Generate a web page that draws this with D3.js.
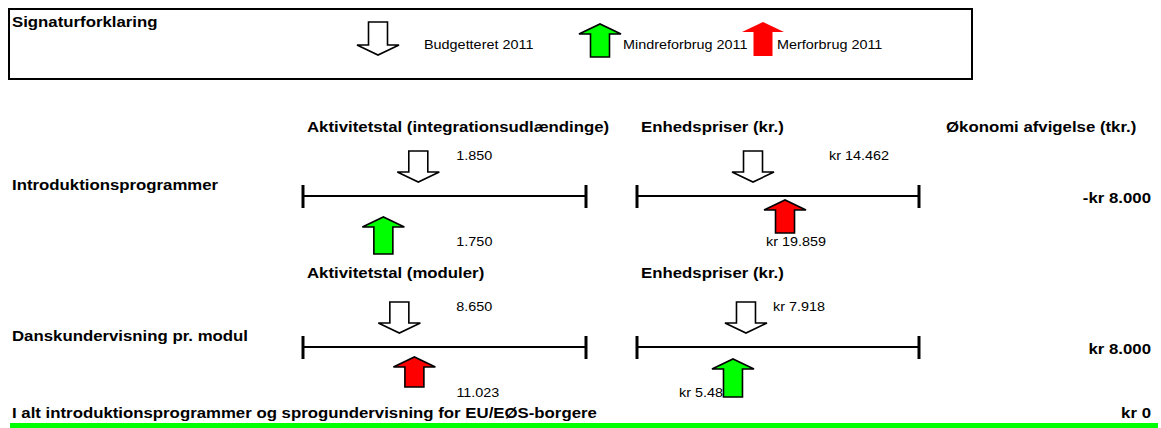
<!DOCTYPE html>
<html>
<head>
<meta charset="utf-8">
<script src="https://cdn.jsdelivr.net/npm/d3@7"></script>
<style>
  body { margin: 0; background: #fff; }
  svg { display: block; font-family: "Liberation Sans", Arial, sans-serif; }
</style>
</head>
<body>
<svg width="1161" height="428"></svg>
<script>
// data
const rowLabels = ["Introduktionsprogrammer", "Danskundervisning pr. modul"];
const activityHeaders = ["Aktivitetstal (integrationsudlændinge)", "Aktivitetstal (moduler)"];
const priceHeaders = ["Enhedspriser (kr.)", "Enhedspriser (kr.)"];
const activityBudget = [1850, 8650];
const activityActual = [1750, 11023];
const priceBudget = [14462, 7918];
const priceActual = [19859, 5487];
const deviation = [-8000, 8000];
const totalLabel = "I alt introduktionsprogrammer og sprogundervisning for EU/EØS-borgere";
const totalValue = 0;
const legendItems = ["Budgetteret 2011", "Mindreforbrug 2011", "Merforbrug 2011"];

const svg = d3.select("svg");
const GREEN = "#00ff00", RED = "#ff0000";
const STRETCH = 1.2; // text in the original is drawn wide

const da = d3.formatLocale({decimal: ",", thousands: ".", grouping: [3], currency: ["kr ", ""], minus: "-"});
const fmtNum = da.format(",.0f");
const fmtKr = da.format("$,.0f");

const line = d3.line();

function label(g, x, y, txt, size, bold, anchor) {
    return g.append("text")
        .attr("transform", `translate(${x},${y}) scale(${STRETCH},1)`)
        .attr("font-size", size)
        .attr("font-weight", bold ? "bold" : "normal")
        .attr("text-anchor", anchor || "start")
        .text(txt);
}

// arrow polygon; dir = 1 points down, -1 points up
function arrowPoints(cx, tipY, dir, len, hw, bw, hh) {
    const base = tipY - dir * len, neck = tipY - dir * hh;
    return [
        [cx - bw / 2, base], [cx + bw / 2, base], [cx + bw / 2, neck],
        [cx + hw / 2, neck], [cx, tipY], [cx - hw / 2, neck], [cx - bw / 2, neck]
    ];
}

function arrow(g, cx, tipY, dir, len, fill, stroke) {
    g.append("path")
        .attr("d", line(arrowPoints(cx, tipY, dir, len, 42, 19, 10)) + "Z")
        .attr("fill", fill)
        .attr("stroke", stroke)
        .attr("stroke-width", 1.6)
        .attr("stroke-linejoin", "miter");
}

// legend
svg.append("rect")
    .attr("x", 9).attr("y", 9).attr("width", 963).attr("height", 70)
    .attr("fill", "none").attr("stroke", "black").attr("stroke-width", 2);
label(svg, 12, 27, "Signaturforklaring", 14, true);

const lg = svg.append("g");
arrow(lg, 378, 55, 1, 33, "white", "black");
arrow(lg, 600, 24, -1, 33, GREEN, "black");
arrow(lg, 763, 22, -1, 34, RED, "none");
legendItems.forEach((d, i) => label(lg, [424, 623, 777][i], 49, d, 12, false));

// panels: scale domains and label offsets per cell
const rowY = [196, 347];
const cols = [{x0: 303, x1: 586}, {x0: 637, x1: 919}];
const cells = [
    {row: 0, col: 0, budget: activityBudget[0], actual: activityActual[0], fmt: fmtNum, domain: [1520, 2330], bDx: 38, aDx: 73, upDy: 21, upLen: 37},
    {row: 0, col: 1, budget: priceBudget[0], actual: priceActual[0], fmt: fmtKr, domain: [-5100, 42450], bDx: 76, aDx: -19, upDy: 4, upLen: 33},
    {row: 1, col: 0, budget: activityBudget[1], actual: activityActual[1], fmt: fmtNum, domain: [-6540, 38080], bDx: 57, aDx: 42, upDy: 10, upLen: 30},
    {row: 1, col: 1, budget: priceBudget[1], actual: priceActual[1], fmt: fmtKr, domain: [-12460, 40270], bDx: 27, aDx: -54, upDy: 12, upLen: 38}
];

const headerY = [132, 278];
rowLabels.forEach((lbl, r) => {
    const y = rowY[r];
    label(svg, 12, y - 6, lbl, 14, true);
    label(svg, 307, headerY[r], activityHeaders[r], 14, true);
    label(svg, 641, headerY[r], priceHeaders[r], 14, true);
    label(svg, 1151, y + 7, fmtKr(deviation[r]), 14, true, "end");
});
label(svg, 946, headerY[0], "Økonomi afvigelse (tkr.)", 14, true);

cells.forEach(c => {
    const y = rowY[c.row], col = cols[c.col];
    const x = d3.scaleLinear().domain(c.domain).range([col.x0, col.x1]);
    const g = svg.append("g");

    g.append("line").attr("x1", col.x0).attr("x2", col.x1).attr("y1", y).attr("y2", y)
        .attr("stroke", "black").attr("stroke-width", 2);
    [col.x0, col.x1].forEach(ex => {
        g.append("line").attr("x1", ex).attr("x2", ex).attr("y1", y - 11).attr("y2", y + 12)
            .attr("stroke", "black").attr("stroke-width", 3);
    });

    const bx = x(c.budget), ax = x(c.actual);
    arrow(g, bx, y - 14, 1, 31, "white", "black");
    label(g, bx + c.bDx, y - 36, c.fmt(c.budget), 12, false);

    label(g, ax + c.aDx, y + 50, c.fmt(c.actual), 12, false);
    arrow(g, ax, y + c.upDy, -1, c.upLen, c.actual > c.budget ? RED : GREEN, "black");
});

// total
label(svg, 12, 418, totalLabel, 14, true);
label(svg, 1151, 418, fmtKr(totalValue), 14, true, "end");
svg.append("rect").attr("x", 10).attr("y", 423).attr("width", 1148).attr("height", 5)
    .attr("fill", GREEN);
</script>
</body>
</html>
